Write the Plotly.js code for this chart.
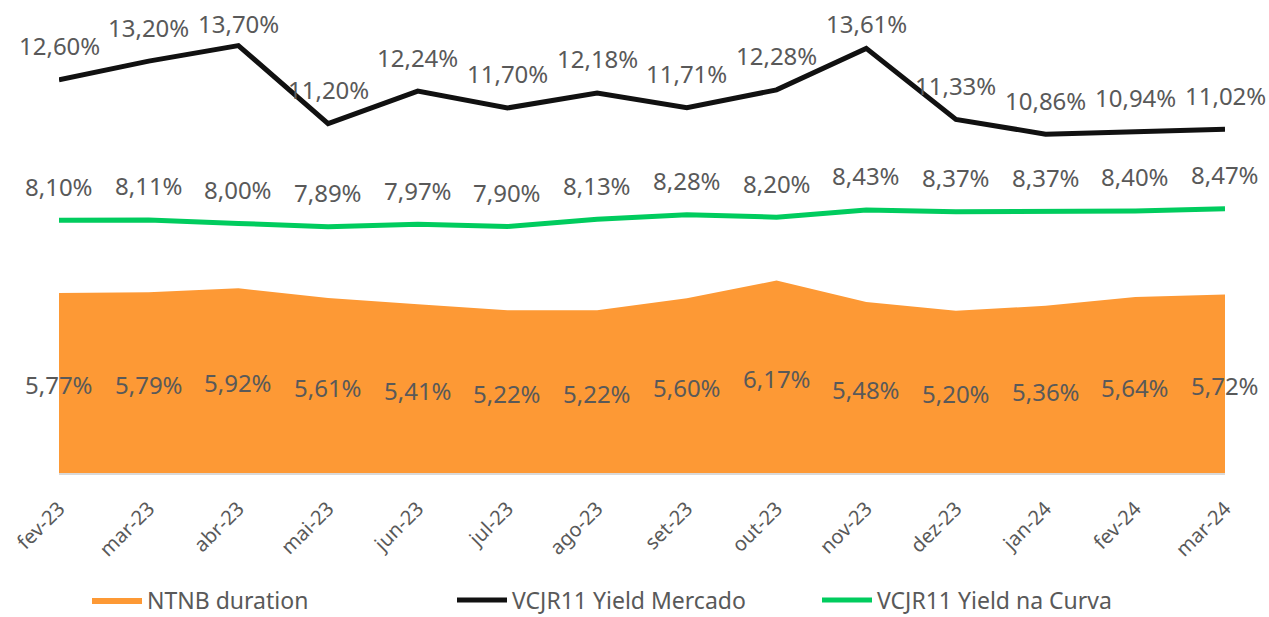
<!DOCTYPE html>
<html><head><meta charset="utf-8">
<script src="https://cdn.plot.ly/plotly-3.0.1.min.js"></script>
<style>html,body{margin:0;padding:0;background:#fff}#chart{width:1269px;height:617px}</style>
</head><body><div id="chart"></div>
<script>
const categories = ['fev-23','mar-23','abr-23','mai-23','jun-23','jul-23','ago-23','set-23','out-23','nov-23','dez-23','jan-24','fev-24','mar-24'];
const ntnbDuration = [5.77,5.79,5.92,5.61,5.41,5.22,5.22,5.60,6.17,5.48,5.20,5.36,5.64,5.72];
const yieldMercado = [12.60,13.20,13.70,11.20,12.24,11.70,12.18,11.71,12.28,13.61,11.33,10.86,10.94,11.02];
const yieldCurva = [8.10,8.11,8.00,7.89,7.97,7.90,8.13,8.28,8.20,8.43,8.37,8.37,8.40,8.47];

const FONT = 'Noto Sans, Open Sans, sans-serif';
const TXT = '#595959';
const W = 1269, H = 617;
const M = {l:59, r:44, t:5, b:144, autoexpand:false};
const YMAX = 15;
const plotH = H - M.t - M.b;
const fmt = v => v.toFixed(2).replace('.', ',') + '%';

const traces = [
  {x: categories, y: ntnbDuration, type:'scatter', mode:'lines', name:'NTNB duration',
   fill:'tozeroy', fillcolor:'#FD9935', line:{color:'#FD9935', width:0}, hoverinfo:'skip'},
  {x: categories, y: yieldMercado, type:'scatter', mode:'lines', name:'VCJR11 Yield Mercado',
   line:{color:'#111111', width:5}, hoverinfo:'skip'},
  {x: categories, y: yieldCurva, type:'scatter', mode:'lines', name:'VCJR11 Yield na Curva',
   line:{color:'#00CC5E', width:5}, hoverinfo:'skip'}
];

const annotations = [];
function addLabels(values, mode) {
  values.forEach((v, i) => {
    let y = v, ys = 0;
    if (mode === 'mid') { y = v / 2; ys = -2; }
    else {
      const pix = M.t + (1 - v / YMAX) * plotH;
      ys = Math.min(34, pix - 23);
    }
    annotations.push({x: categories[i], y: y, xref:'x', yref:'y', text: fmt(v), showarrow:false,
      yshift: ys, xanchor:'center', yanchor:'middle',
      font:{family:FONT, size:24, color:TXT}});
  });
}
addLabels(ntnbDuration, 'mid');
addLabels(yieldMercado, 'top');
addLabels(yieldCurva, 'top');

const layout = {
  width: W, height: H,
  margin: M,
  paper_bgcolor:'#fff', plot_bgcolor:'#fff',
  showlegend: true,
  legend: {orientation:'h', x:0.5, xanchor:'center', xref:'container', y:1 - 600/617, yanchor:'middle', yref:'container',
    font:{family:FONT, size:23, color:TXT}, itemwidth:50, entrywidth:300, entrywidthmode:'pixels', tracegroupgap:0},
  xaxis: {type:'category', range:[0, categories.length - 1], showgrid:false, zeroline:false,
    showline:true, linecolor:'#D9D9D9', linewidth:2, ticks:'', tickangle:-45, ticklabelstandoff:14,
    tickfont:{family:FONT, size:20, color:TXT}, fixedrange:true, automargin:false},
  yaxis: {range:[0, YMAX], visible:false, showgrid:false, zeroline:false, fixedrange:true},
  annotations: annotations,
  font:{family:FONT, color:TXT}
};

Plotly.newPlot('chart', traces, layout, {displayModeBar:false, staticPlot:true});
</script></body></html>
